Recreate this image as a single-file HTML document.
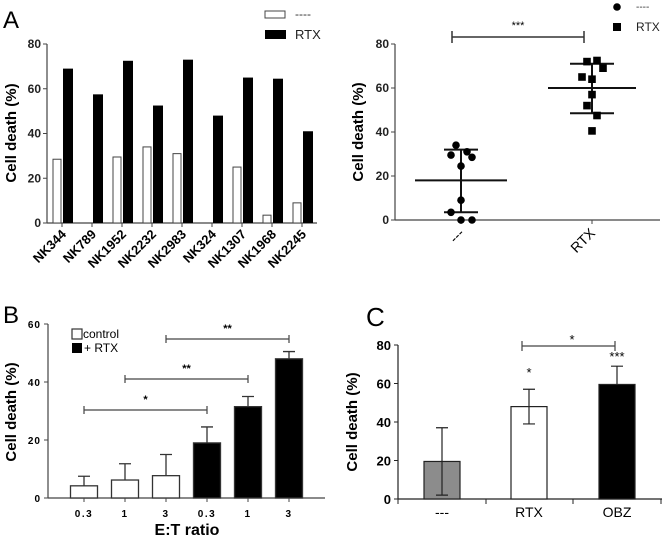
<!DOCTYPE html>
<html><head><meta charset="utf-8">
<style>
html,body{margin:0;padding:0;background:#fff;}
svg{display:block;font-family:"Liberation Sans",Arial,sans-serif;}
</style></head>
<body>
<svg id="fig" width="664" height="537" viewBox="0 0 664 537">
<g id="pA1"></g>
<g id="pA2"></g>
<g id="pB"></g>
<g id="pC"></g>
</svg>
<script>
// Panel A left data
const aDonors = ["NK344","NK789","NK1952","NK2232","NK2983","NK324","NK1307","NK1968","NK2245"];
const aControl = [28.5,0,29.5,34,31,0,25,3.5,9];
const aRTX = [69,57.5,72.5,52.5,73,48,65,64.5,41];
const aTicks = [0,20,40,60,80];
// Panel A right data
const sCtrlVals = [34,31,29.5,28.5,24.5,9,3.5,0,0];
const sCtrlJit = [-5,6,-10,11,0,0,-10,0,11];
const sRTXVals = [72.5,72,69,65,64,57,52,47.5,40.5];
const sRTXJit = [5,-5,11,-10,0,0,-5,5,0];
const sMean = [18,60];
const sSDlo = [3.5,48.5];
const sSDhi = [32,71];
const sCats = ["---","RTX"];
// Panel B data
const bLabels = ["0.3","1","3","0.3","1","3"];
const bValues = [4.2,6.2,7.7,19,31.5,48];
const bErr = [3.3,5.6,7.3,5.5,3.5,2.5];
const bTicks = [0,20,40,60];
// Panel C data
const cCats = ["---","RTX","OBZ"];
const cValues = [19.5,48,59.5];
const cErrLo = [17.5,9,0];
const cErrHi = [17.5,9,9.5];
const cTicks = [0,20,40,60,80];

const NS="http://www.w3.org/2000/svg";
function mk(parent,tag,attrs,text){const e=document.createElementNS(NS,tag);for(const k in attrs)e.setAttribute(k,attrs[k]);if(text!==undefined)e.textContent=text;parent.appendChild(e);return e;}

// ---------- Panel A left ----------
(function(){
const g=document.getElementById('pA1');
const x0=47,y0=223,yTop=44,xEnd=317;
const ys=v=>y0-(v/80)*(y0-yTop);
const gx=i=>53+i*30;
let t=mk(g,'text',{x:3,y:28,'font-size':24},'A');


let ax=mk(g,'line',{x1:x0,y1:yTop,x2:x0,y2:y0,stroke:'#444','stroke-width':1.2});


ax=mk(g,'line',{x1:x0,y1:y0,x2:xEnd,y2:y0,stroke:'#444','stroke-width':1.2});


aTicks.forEach(v=>{
 mk(g,'line',{x1:x0-4,y1:ys(v),x2:x0,y2:ys(v),stroke:'#444'});
 const l=mk(g,'text',{x:x0-6,y:ys(v)+4,'font-size':12,'font-weight':'bold','text-anchor':'end',fill:'#222'},v);
 
 
});
const yl=mk(g,'text',{x:0,y:0,'font-size':15,'font-weight':'bold','text-anchor':'middle',transform:'translate(16,133) rotate(-90)'},'Cell death (%)');


aDonors.forEach((d,i)=>{
 const x=gx(i);
 const r1=mk(g,'rect',{x:x,y:ys(aControl[i]),width:8,height:y0-ys(aControl[i]),fill:'#fff',stroke:'#444','stroke-width':1});
 
 
 const r2=mk(g,'rect',{x:x+10,y:ys(aRTX[i]),width:10,height:y0-ys(aRTX[i]),fill:'#000'});
 
 
 mk(g,'line',{x1:x+9,y1:y0,x2:x+9,y2:y0+4,stroke:'#444'});
 const l=mk(g,'text',{x:0,y:0,'font-size':13,'font-weight':'bold','text-anchor':'end',transform:`translate(${x+14},${y0+12}) rotate(-45)`},d);
 
 
});
let lg=mk(g,'rect',{x:265,y:11,width:20,height:7,fill:'#fff',stroke:'#444'});


lg=mk(g,'text',{x:295,y:18,'font-size':12,fill:'#333'},'----');


lg=mk(g,'rect',{x:265,y:30,width:21,height:9,fill:'#000'});


lg=mk(g,'text',{x:295,y:39,'font-size':13,fill:'#222'},'RTX');


})();

// ---------- Panel A right ----------
(function(){
const g=document.getElementById('pA2');
const x0=395,y0=220,yTop=44,xEnd=660;
const ys=v=>y0-(v/80)*(y0-yTop);
const cx=[461,592];
let ax=mk(g,'line',{x1:x0,y1:yTop,x2:x0,y2:y0,stroke:'#444','stroke-width':1.2});


ax=mk(g,'line',{x1:x0,y1:y0,x2:xEnd,y2:y0,stroke:'#444','stroke-width':1.2});


aTicks.forEach(v=>{
 mk(g,'line',{x1:x0-4,y1:ys(v),x2:x0,y2:ys(v),stroke:'#444'});
 const l=mk(g,'text',{x:x0-6,y:ys(v)+4,'font-size':12,'font-weight':'bold','text-anchor':'end',fill:'#222'},v);
 
 
});
const yl=mk(g,'text',{x:0,y:0,'font-size':15,'font-weight':'bold','text-anchor':'middle',transform:'translate(363,132) rotate(-90)'},'Cell death (%)');


sCats.forEach((c,i)=>{
 mk(g,'line',{x1:cx[i],y1:y0,x2:cx[i],y2:y0+4,stroke:'#444'});
 const l=mk(g,'text',{x:0,y:0,'font-size':14,'text-anchor':'end',transform:`translate(${cx[i]+4},${y0+14}) rotate(-45)`},c);
 
 
 const mw=i===0?46:44, sw=i===0?17:22;
 const m=mk(g,'line',{x1:cx[i]-mw,y1:ys(sMean[i]),x2:cx[i]+mw,y2:ys(sMean[i]),stroke:'#111','stroke-width':2});
 
 
 mk(g,'line',{x1:cx[i],y1:ys(sSDlo[i]),x2:cx[i],y2:ys(sSDhi[i]),stroke:'#111','stroke-width':2});
 mk(g,'line',{x1:cx[i]-sw,y1:ys(sSDlo[i]),x2:cx[i]+sw,y2:ys(sSDlo[i]),stroke:'#111','stroke-width':2});
 mk(g,'line',{x1:cx[i]-sw,y1:ys(sSDhi[i]),x2:cx[i]+sw,y2:ys(sSDhi[i]),stroke:'#111','stroke-width':2});
});
sCtrlVals.forEach((v,i)=>{
 const p=mk(g,'circle',{cx:cx[0]+sCtrlJit[i],cy:ys(v),r:3.8,fill:'#000'});
 
 
});
sRTXVals.forEach((v,i)=>{
 const p=mk(g,'rect',{x:cx[1]+sRTXJit[i]-3.8,y:ys(v)-3.8,width:7.6,height:7.6,fill:'#000'});
 
 
});
let s=mk(g,'path',{d:'M452,31 V43 M452,37 H584 M584,31 V43',stroke:'#333','stroke-width':1.5,fill:'none'});


s=mk(g,'text',{x:518,y:29,'font-size':11,'text-anchor':'middle'},'***');


let lg=mk(g,'circle',{cx:617,cy:7,r:3.8,fill:'#000'});


lg=mk(g,'text',{x:636,y:10,'font-size':10,fill:'#333'},'----');


lg=mk(g,'rect',{x:613,y:23,width:8,height:8,fill:'#000'});


lg=mk(g,'text',{x:636,y:31,'font-size':12,fill:'#222'},'RTX');


})();

// ---------- Panel B ----------
(function(){
const g=document.getElementById('pB');
const x0=48,y0=498,yTop=324,xEnd=325;
const ys=v=>y0-(v/60)*(y0-yTop);
const bx=i=>84+i*41;
let t=mk(g,'text',{x:3,y:323,'font-size':24},'B');


let ax=mk(g,'line',{x1:x0,y1:yTop,x2:x0,y2:y0,stroke:'#444','stroke-width':1.2});


ax=mk(g,'line',{x1:x0,y1:y0,x2:xEnd,y2:y0,stroke:'#444','stroke-width':1.2});


bTicks.forEach(v=>{
 mk(g,'line',{x1:x0-4,y1:ys(v),x2:x0,y2:ys(v),stroke:'#444'});
 const l=mk(g,'text',{x:x0-7,y:ys(v)+4,'font-size':10,'font-weight':'bold','text-anchor':'end','letter-spacing':'1'},v);
 
 
});
const yl=mk(g,'text',{x:0,y:0,'font-size':15,'font-weight':'bold','text-anchor':'middle',transform:'translate(16,412) rotate(-90)'},'Cell death (%)');


bValues.forEach((v,i)=>{
 const x=bx(i), black=i>=3;
 mk(g,'path',{d:`M${x},${ys(v)} V${ys(v+bErr[i])} M${x-6},${ys(v+bErr[i])} H${x+6}`,stroke:'#333','stroke-width':1.3,fill:'none'});
 const r=mk(g,'rect',{x:x-13.5,y:ys(v),width:27,height:y0-ys(v),fill:black?'#000':'#fff',stroke:'#333','stroke-width':1.3});
 
 
 mk(g,'line',{x1:x,y1:y0,x2:x,y2:y0+4,stroke:'#444'});
 const l=mk(g,'text',{x:x,y:517,'font-size':10,'font-weight':'bold','text-anchor':'middle','letter-spacing':'1.5'},bLabels[i]);
 
 
});
const xt=mk(g,'text',{x:187,y:535,'font-size':16,'font-weight':'bold','text-anchor':'middle'},'E:T ratio');


[[0,3,410,'*'],[1,4,379,'**'],[2,5,339,'**']].forEach(b=>{
 const x1=bx(b[0]),x2=bx(b[1]);
 const p=mk(g,'path',{d:`M${x1},${b[2]-4} V${b[2]+4} M${x1},${b[2]} H${x2} M${x2},${b[2]-4} V${b[2]+4}`,stroke:'#444','stroke-width':1.2,fill:'none'});
 
 
 const s=mk(g,'text',{x:(x1+x2)/2,y:b[2]-7,'font-size':11,'font-weight':'bold','text-anchor':'middle'},b[3]);
 
 
});
let lg=mk(g,'rect',{x:72,y:329,width:10,height:10,fill:'#fff',stroke:'#333','stroke-width':1.2});


lg=mk(g,'text',{x:83,y:338,'font-size':12},'control');


lg=mk(g,'rect',{x:72,y:343,width:10,height:10,fill:'#000'});


lg=mk(g,'text',{x:84,y:352,'font-size':12},'+ RTX');


})();

// ---------- Panel C ----------
(function(){
const g=document.getElementById('pC');
const x0=398,y0=499,yTop=345,xEnd=662;
const ys=v=>y0-(v/80)*(y0-yTop);
const cx=[442,529,617], fills=['#8c8c8c','#fff','#000'];
let t=mk(g,'text',{x:366,y:326,'font-size':26},'C');


let ax=mk(g,'line',{x1:x0,y1:yTop,x2:x0,y2:y0,stroke:'#222','stroke-width':1.2});


ax=mk(g,'line',{x1:x0,y1:y0,x2:xEnd,y2:y0,stroke:'#222','stroke-width':1.2});


[398,486,573,661].forEach(x=>mk(g,'line',{x1:x,y1:y0,x2:x,y2:y0+5,stroke:'#222'}));
cTicks.forEach(v=>{
 mk(g,'line',{x1:x0-4,y1:ys(v),x2:x0,y2:ys(v),stroke:'#222'});
 const l=mk(g,'text',{x:x0-7,y:ys(v)+5,'font-size':13,'font-weight':'bold','text-anchor':'end'},v);
 
 
});
const yl=mk(g,'text',{x:0,y:0,'font-size':15,'font-weight':'bold','text-anchor':'middle',transform:'translate(357,422) rotate(-90)'},'Cell death  (%)');


cValues.forEach((v,i)=>{
 const x=cx[i];
 const r=mk(g,'rect',{x:x-18,y:ys(v),width:36,height:y0-ys(v),fill:fills[i],stroke:'#222','stroke-width':1.2});
 
 
 const lo=v-cErrLo[i], hi=v+cErrHi[i];
 mk(g,'path',{d:`M${x},${ys(lo)} V${ys(hi)} M${x-6},${ys(hi)} H${x+6}`+(cErrLo[i]>0?` M${x-6},${ys(lo)} H${x+6}`:''),stroke:'#222','stroke-width':1.2,fill:'none'});
 const l=mk(g,'text',{x:x,y:517,'font-size':14,'text-anchor':'middle'},cCats[i]);
 
 
});
let s=mk(g,'path',{d:'M522,341 V351 M522,346 H615 M615,341 V351',stroke:'#444','stroke-width':1.2,fill:'none'});


s=mk(g,'text',{x:572,y:344,'font-size':13,'text-anchor':'middle'},'*');


s=mk(g,'text',{x:529,y:377,'font-size':13,'text-anchor':'middle'},'*');


s=mk(g,'text',{x:617,y:361,'font-size':13,'text-anchor':'middle'},'***');


})();
</script>
</body></html>
